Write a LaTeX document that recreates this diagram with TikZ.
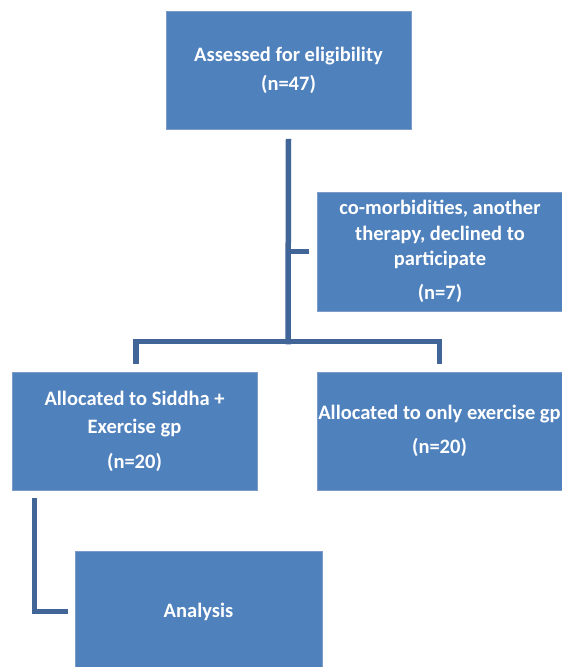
\documentclass[tikz,border=0pt]{standalone}
\usepackage{fontspec}
\setmainfont{Carlito}
\usepackage{tikz}
\definecolor{boxblue}{RGB}{79,129,189}
\definecolor{boxedge}{RGB}{125,155,200}
\definecolor{lineblue}{RGB}{66,101,152}

\begin{document}
\begin{tikzpicture}[x=1pt,y=-1pt,
  every node/.style={text=white, font=\fontsize{20.5}{28.5}\selectfont\bfseries, align=center},
  box/.style={fill=boxblue, draw=boxedge, line width=0.7pt, minimum width=245pt, minimum height=118pt, inner sep=0pt},
  conn/.style={draw=lineblue, line width=5.5pt}]
\useasboundingbox (0,0) rectangle (562,667);

\node[box] (top) at (288.5,70.5) {Assessed for eligibility\\(n=47)};
\node[box, minimum height=119pt, font=\fontsize{20.5}{25.5}\selectfont\bfseries] (side) at (440,251.5) {co-morbidities, another\\therapy, declined to\\participate\\[8pt](n=7)};
\node[box] (left) at (134.5,431) {Allocated to Siddha +\\Exercise gp\\[6pt](n=20)};
\node[box] (right) at (439.5,431) {Allocated to only exercise gp\\[6pt](n=20)};
\node[box, minimum width=247pt, minimum height=121pt] (analysis) at (198.5,611.5) {Analysis};

\coordinate (split) at (288,341.5);
\draw[conn] ([yshift=-9pt]top.south) -- ([yshift=-2.75pt]split);
\draw[conn] (top.south |- side.west) -- ([xshift=-8pt]side.west);
\draw[conn] ([xshift=1.5pt,yshift=8pt]left.north) |- (split) -| ([yshift=8pt]right.north);
\draw[conn] ([xshift=-100pt,yshift=-8pt]left.south) |- ([xshift=-7pt]analysis.west);
\end{tikzpicture}
\end{document}
